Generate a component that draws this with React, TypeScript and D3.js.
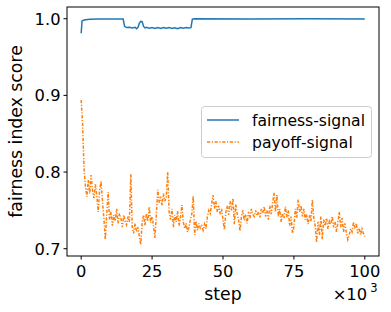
import React from 'react';
import * as d3 from 'd3';

// fairness-signal: sampled irregularly (steps, values)
const fairSteps = [
  0, 300, 1000, 3000, 6000, 10000, 14800, 15300, 16000, 17000, 18000, 19000, 19500, 20000,
  20500, 21000, 21500, 22000, 22500, 23000, 24000, 25000, 26000, 27000, 28000, 29000, 30000,
  31000, 32000, 33000, 34000, 35000, 36000, 37000, 38000, 38700, 39200, 40000, 60000, 80000, 100000,
];
const fairValues = [
  0.981, 0.997, 0.9985, 0.9992, 0.9995, 0.9996, 0.9996, 0.990, 0.9885, 0.989, 0.988, 0.9888, 0.987, 0.9885,
  0.994, 0.9965, 0.9962, 0.990, 0.988, 0.9888, 0.9876, 0.9886, 0.9874, 0.9884, 0.9872, 0.9886, 0.9875,
  0.9885, 0.9873, 0.9882, 0.9871, 0.9884, 0.9876, 0.9886, 0.9878, 0.9884, 0.9995, 1.0, 0.9998, 0.9999, 0.9998,
];

// payoff-signal: one value every 500 steps, 0 .. 100000
const PAYOFF_INTERVAL = 500;
const payoffValues = [
  0.894, 0.862, 0.805, 0.782, 0.768, 0.790, 0.772, 0.796, 0.776, 0.766,
  0.784, 0.770, 0.748, 0.776, 0.788, 0.762, 0.740, 0.712, 0.745, 0.774,
  0.738, 0.748, 0.730, 0.744, 0.736, 0.752, 0.733, 0.746, 0.740, 0.728,
  0.744, 0.736, 0.731, 0.742, 0.735, 0.797, 0.728, 0.720, 0.733, 0.722,
  0.728, 0.716, 0.705, 0.735, 0.744, 0.730, 0.746, 0.736, 0.755, 0.734,
  0.742, 0.730, 0.714, 0.745, 0.777, 0.760, 0.768, 0.756, 0.772, 0.762,
  0.768, 0.800, 0.748, 0.738, 0.752, 0.728, 0.744, 0.735, 0.749, 0.730,
  0.740, 0.757, 0.735, 0.726, 0.733, 0.722, 0.728, 0.738, 0.745, 0.769,
  0.718, 0.736, 0.724, 0.733, 0.727, 0.730, 0.724, 0.732, 0.726, 0.742,
  0.750, 0.746, 0.758, 0.770, 0.752, 0.762, 0.748, 0.756, 0.745, 0.752,
  0.737, 0.725, 0.748, 0.756, 0.744, 0.762, 0.750, 0.766, 0.732, 0.758,
  0.745, 0.738, 0.723, 0.742, 0.750, 0.737, 0.745, 0.733, 0.748, 0.740,
  0.752, 0.745, 0.742, 0.750, 0.743, 0.748, 0.741, 0.752, 0.746, 0.755,
  0.742, 0.750, 0.738, 0.756, 0.745, 0.760, 0.773, 0.748, 0.770, 0.742,
  0.752, 0.735, 0.746, 0.740, 0.755, 0.741, 0.750, 0.730, 0.742, 0.720,
  0.728, 0.752, 0.740, 0.764, 0.748, 0.756, 0.742, 0.752, 0.738, 0.745,
  0.732, 0.744, 0.735, 0.764, 0.740, 0.730, 0.708, 0.735, 0.718, 0.742,
  0.712, 0.738, 0.730, 0.740, 0.726, 0.736, 0.732, 0.742, 0.728, 0.735,
  0.722, 0.734, 0.748, 0.728, 0.740, 0.722, 0.733, 0.720, 0.712, 0.718,
  0.726, 0.722, 0.735, 0.728, 0.733, 0.720, 0.727, 0.718, 0.726, 0.720,
  0.716,
];

const xTicks = [0, 25000, 50000, 75000, 100000];
const yTicks = [0.7, 0.8, 0.9, 1.0];
const seriesNames = ['fairness-signal', 'payoff-signal'];

const W = 391;
const H = 312;
const m = { left: 67, top: 7, right: 12, bottom: 56 };
const font = 'DejaVu Sans, sans-serif';

export default function App() {
  const x = d3.scaleLinear().domain([-5000, 105000]).range([m.left, W - m.right]);
  const y = d3.scaleLinear().domain([0.6905, 1.0153]).range([H - m.bottom, m.top]);

  const fair = fairSteps.map((s, i) => [s, fairValues[i]] as [number, number]);
  const payoff = payoffValues.map((v, i) => [i * PAYOFF_INTERVAL, v] as [number, number]);
  const line = d3.line<[number, number]>().x(d => x(d[0])).y(d => y(d[1]));

  const x0 = m.left, x1 = W - m.right, y0 = m.top, y1 = H - m.bottom;
  const dash = '3.2,1.6,1.2,1.6';

  return (
    <svg width={W} height={H} style={{ position: 'absolute', left: 0, top: 0, background: '#fff' }}
      fontFamily={font}>
      <path d={line(payoff) ?? ''} fill="none" stroke="#ff7f0e" strokeWidth={1.5} strokeDasharray={dash} />
      <path d={line(fair) ?? ''} fill="none" stroke="#1f77b4" strokeWidth={1.5} />

      <rect x={x0} y={y0} width={x1 - x0} height={y1 - y0} fill="none" stroke="#000" strokeWidth={1} />

      {xTicks.map(t => (
        <g key={t}>
          <line x1={x(t)} x2={x(t)} y1={y1} y2={y1 + 3.5} stroke="#000" />
          <text x={x(t)} y={y1 + 21} textAnchor="middle" fontSize={16.3}>{t / 1000}</text>
        </g>
      ))}
      {yTicks.map(t => (
        <g key={t}>
          <line x1={x0} x2={x0 - 3.5} y1={y(t)} y2={y(t)} stroke="#000" />
          <text x={x0 - 6.5} y={y(t)} dy="0.36em" textAnchor="end" fontSize={16.3}>{t.toFixed(1)}</text>
        </g>
      ))}

      <text x={(x0 + x1) / 2} y={300} textAnchor="middle" fontSize={17.3}>step</text>
      <text x={x1 - 12} y={300} textAnchor="end" fontSize={16.3}>×10</text>
      <text x={x1 - 1.5} y={292} textAnchor="end" fontSize={11.5}>3</text>
      <text transform={`translate(22,${(y0 + y1) / 2}) rotate(-90)`} textAnchor="middle" fontSize={17.3}>
        fairness index score
      </text>

      <g>
        <rect x={201.5} y={106.5} width={170} height={51} rx={3} fill="#fff" fillOpacity={0.8}
          stroke="#cccccc" strokeWidth={1} />
        {seriesNames.map((name, i) => {
          const ly = 120 + i * 22;
          return (
            <g key={name}>
              <line x1={207} x2={239} y1={ly} y2={ly} stroke={i === 0 ? '#1f77b4' : '#ff7f0e'}
                strokeWidth={1.5} strokeDasharray={i === 0 ? undefined : dash} />
              <text x={252} y={ly} dy="0.36em" fontSize={15.6}>{name}</text>
            </g>
          );
        })}
      </g>
    </svg>
  );
}
